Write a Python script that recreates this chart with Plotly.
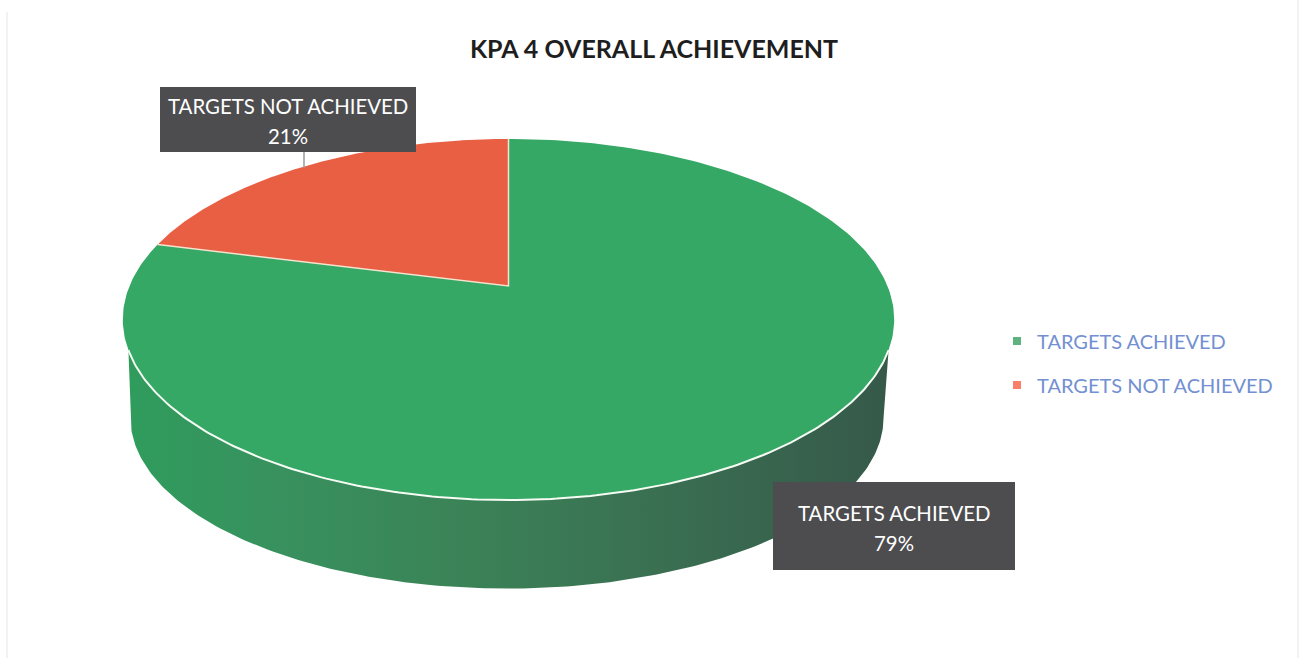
import numpy as np
import plotly.graph_objects as go

categories = ["TARGETS ACHIEVED", "TARGETS NOT ACHIEVED"]
values = [79, 21]
colors = ["#35A866", "#E95F43"]
legend_colors = ["#5DB27F", "#FA7F68"]
title_text = "KPA 4 OVERALL ACHIEVEMENT"
FONT = "Lato, 'Open Sans', sans-serif"

W, H = 1301, 658
k = 0.1856  # perspective


def ring(frac, cx, cy, r, h):
    """Project pie fractions (0 = top, clockwise) to the tilted disc."""
    a = 2 * np.pi * np.asarray(frac)
    u, v = np.sin(a), np.cos(a)
    d = 1 + k * v
    return cx + r * u / d, cy - h * v / d


TOP = dict(cx=508.5, cy=286, r=379, h=174.3)
BOT = dict(cx=507, cy=386, r=370, h=165)

shares = np.array(values) / sum(values)
edges = np.concatenate([[0], np.cumsum(shares)])

fig = go.Figure()

# side wall, spanning the visible front of the disc
f_side_top = np.linspace(0.306, 0.694, 200)
xt, yt = ring(f_side_top, **TOP)
f_side_bot = np.linspace(0.72, 0.28, 200)
xb, yb = ring(f_side_bot, **BOT)
fig.add_trace(go.Scatter(
    x=np.concatenate([xt, xb]), y=np.concatenate([yt, yb]),
    mode="lines", line=dict(width=0), fill="toself", hoverinfo="skip", showlegend=False,
    fillgradient=dict(type="horizontal", colorscale=[
        [0, "#2F9C5C"], [0.2, "#38915E"], [0.45, "#3B8257"],
        [0.7, "#3A6F52"], [1, "#36594A"]]),
))

# top slices, computed from the values
for i, (name, col) in enumerate(zip(categories, colors)):
    fr = np.linspace(edges[i], edges[i + 1], 300)
    xs, ys = ring(fr, **TOP)
    fig.add_trace(go.Scatter(
        x=np.concatenate([[TOP["cx"]], xs, [TOP["cx"]]]),
        y=np.concatenate([[TOP["cy"]], ys, [TOP["cy"]]]),
        mode="lines", line=dict(width=0), fill="toself", fillcolor=col,
        name=name, hoverinfo="name", showlegend=False,
    ))

# slice separators
xe, ye = ring(edges[1], **TOP)
x0, y0 = ring(0.0, **TOP)
fig.add_trace(go.Scatter(
    x=[x0, TOP["cx"], xe], y=[y0, TOP["cy"], ye], mode="lines",
    line=dict(color="#F3E3CF", width=1.5), hoverinfo="skip", showlegend=False))

# rim highlight on the front edge
xr, yr = ring(f_side_top, **TOP)
fig.add_trace(go.Scatter(x=xr, y=yr, mode="lines",
                         line=dict(color="#F6FBF4", width=2), hoverinfo="skip", showlegend=False))

# legend entries
for name, col in zip(categories, legend_colors):
    fig.add_trace(go.Scatter(
        x=[None], y=[None], mode="markers", name=name, legendgroup=name,
        marker=dict(symbol="square", size=8, color=col)))

# data labels: box, then the name and percent lines
boxes = [(773, 1015, 482, 570), (160, 416, 87, 152)]
label_pos = [(894, 513, 543), (288, 106, 136)]

shapes = [
    dict(type="line", x0=304, x1=304, y0=152, y1=168, line=dict(color="#9A9A9A", width=1.5), layer="above"),
    dict(type="line", x0=7, x1=7, y0=12, y1=658, line=dict(color="#F2F2F2", width=2), layer="below"),
    dict(type="line", x0=1298, x1=1298, y0=0, y1=658, line=dict(color="#F2F2F2", width=2), layer="below"),
]
for (bx0, bx1, by0, by1) in boxes:
    shapes.append(dict(type="rect", x0=bx0, x1=bx1, y0=by0, y1=by1, fillcolor="#4D4D50",
                       line=dict(width=0), layer="above"))
for i, (lx, ly1, ly2) in enumerate(label_pos):
    for txt, ly in ((categories[i], ly1), (f"{values[i]}%", ly2)):
        fig.add_annotation(x=lx, y=ly, xref="x", yref="y", text=txt, showarrow=False,
                           font=dict(family=FONT, size=20.4, color="#FFFFFF"))

fig.update_layout(
    width=W, height=H,
    margin=dict(l=0, r=0, t=0, b=0),
    paper_bgcolor="#FFFFFF", plot_bgcolor="#FFFFFF",
    xaxis=dict(range=[0, W], visible=False, fixedrange=True),
    yaxis=dict(range=[H, 0], visible=False, fixedrange=True),
    title=dict(text=f"<b>{title_text}</b>", x=654 / W, xanchor="center", y=1 - 49 / H, yanchor="middle",
               font=dict(family=FONT, size=25, color="#1E1E1E")),
    legend=dict(x=997 / W, y=1 - 363 / H, xanchor="left", yanchor="middle", tracegroupgap=15,
                font=dict(family=FONT, size=20, color="#7390D2"), bgcolor="rgba(0,0,0,0)"),
    shapes=shapes,
    font=dict(family=FONT),
)

fig.write_html("out.html", config=dict(displayModeBar=False),
               post_script="document.body.style.margin='0';document.body.style.overflow='hidden';")
